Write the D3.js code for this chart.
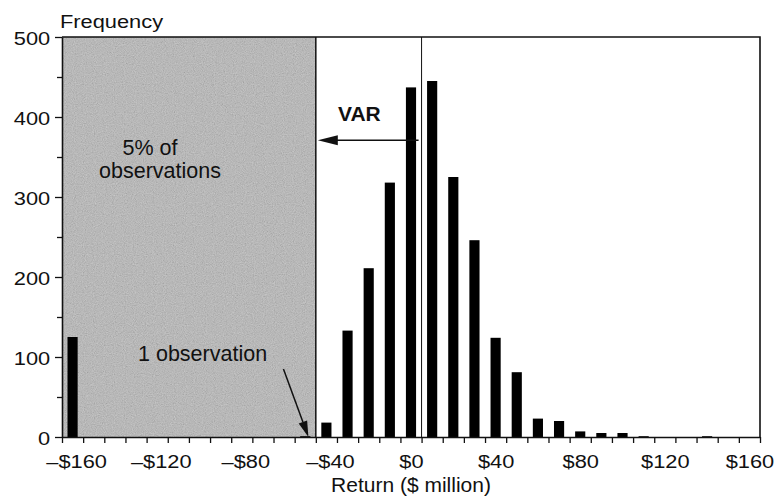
<!DOCTYPE html>
<html>
<head>
<meta charset="utf-8">
<script src="https://cdn.jsdelivr.net/npm/d3@7/dist/d3.min.js"></script>
<style>
  html, body { margin: 0; padding: 0; background: #fff; }
  svg { display: block; font-family: "Liberation Sans", Arial, Helvetica, sans-serif; }
</style>
</head>
<body>
<svg id="chart" width="775" height="500"></svg>
<script>
// Histogram bins: return in $ million (bin centres)
const bins = [-160, -150, -140, -130, -120, -110, -100, -90, -80, -70, -60, -50,
              -40, -30, -20, -10, 0, 10, 20, 30, 40, 50, 60, 70, 80, 90, 100,
              110, 120, 130, 140, 150, 160];
// Number of observations in each bin
const frequency = [125, 0, 0, 0, 0, 0, 0, 0, 0, 0, 0, 1,
                   18, 133, 211, 318, 437, 445, 325, 246, 124, 81, 23, 20, 7, 5, 5,
                   1, 0, 0, 1, 0, 0];
// Labelled x ticks and y ticks
const xLabelValues = [-160, -120, -80, -40, 0, 40, 80, 120, 160];
const yMajorTicks = [0, 100, 200, 300, 400, 500];
const yMinorTicks = [50, 150, 250, 350, 450];
// Value-at-risk cut-off and mean of the distribution (bin edges)
const varCutoff = -45;
const meanLine = 5;

const svg = d3.select("#chart");
const plotLeft = 62, plotRight = 760, plotTop = 37, plotBottom = 437;
const binWidth = 10;

const x = d3.scaleLinear()
  .domain([bins[0] - binWidth / 2, bins[bins.length - 1] + binWidth / 2])
  .range([plotLeft, plotRight]);
const y = d3.scaleLinear().domain([0, 500]).range([plotBottom, plotTop]);

const fmtMoney = v => (v < 0 ? "\u2013$" : "$") + Math.abs(v);
const stretch = 1.18;

// grain for the shaded tail
const defs = svg.append("defs");
const grain = defs.append("filter").attr("id", "grain")
  .attr("x", 0).attr("y", 0).attr("width", 1).attr("height", 1);
grain.append("feTurbulence").attr("type", "fractalNoise")
  .attr("baseFrequency", 0.9).attr("numOctaves", 2).attr("seed", 7);
grain.append("feColorMatrix").attr("type", "matrix")
  .attr("values", "0.33 0.33 0.33 0 0  0.33 0.33 0.33 0 0  0.33 0.33 0.33 0 0  0 0 0 0 1");

// shaded region: worst 5% of outcomes
const x0 = x(x.domain()[0]);
svg.append("rect")
  .attr("x", x0).attr("y", y(500))
  .attr("width", x(varCutoff) - x0).attr("height", y(0) - y(500))
  .attr("fill", "#b6b6b6");
svg.append("rect")
  .attr("x", x0).attr("y", y(500))
  .attr("width", x(varCutoff) - x0).attr("height", y(0) - y(500))
  .attr("filter", "url(#grain)").attr("opacity", 0.45);

// bars
const barW = (x(binWidth) - x(0)) * 0.48;
svg.append("g").selectAll("rect")
  .data(bins.map((b, i) => ({ b, f: frequency[i] })))
  .join("rect")
  .attr("x", d => x(d.b) - barW / 2)
  .attr("y", d => y(d.f))
  .attr("width", barW)
  .attr("height", d => y(0) - y(d.f))
  .attr("fill", "#000");

// frame: top and right edges
svg.append("path")
  .attr("d", `M${plotLeft},${y(500)}H${plotRight}V${y(0)}`)
  .attr("fill", "none").attr("stroke", "#111").attr("stroke-width", 1.6);

// VaR cut-off and mean lines
svg.append("line")
  .attr("x1", x(varCutoff)).attr("x2", x(varCutoff)).attr("y1", y(500)).attr("y2", y(0))
  .attr("stroke", "#111").attr("stroke-width", 1.5);
svg.append("line")
  .attr("x1", x(meanLine)).attr("x2", x(meanLine)).attr("y1", y(500)).attr("y2", y(0))
  .attr("stroke", "#111").attr("stroke-width", 1);

// x axis: ticks on bin edges, labels on bin centres
const edgeTicks = bins.map(b => b - binWidth / 2).concat([bins[bins.length - 1] + binWidth / 2]);
const xAxisTicks = svg.append("g").attr("transform", `translate(0,${y(0)})`)
  .call(d3.axisBottom(x).tickValues(edgeTicks).tickSize(6).tickFormat("").tickSizeOuter(0));
xAxisTicks.select(".domain").attr("stroke", "#111").attr("stroke-width", 1.6);
xAxisTicks.selectAll(".tick line").attr("stroke", "#111").attr("stroke-width", 1.3);

const xAxisLabels = svg.append("g").attr("transform", `translate(0,${y(0)})`)
  .call(d3.axisBottom(x).tickValues(xLabelValues).tickSize(0).tickPadding(18).tickFormat(fmtMoney));
xAxisLabels.select(".domain").remove();
xAxisLabels.selectAll(".tick text")
  .attr("font-size", 18.5).attr("fill", "#111").attr("font-family", null)
  .attr("dx", d => d < 0 ? 3 : 0)
  .attr("transform", `scale(${stretch},1)`);

// y axis
const yAxis = svg.append("g").attr("transform", `translate(${plotLeft},0)`)
  .call(d3.axisLeft(y).tickValues(yMajorTicks).tickSize(7).tickPadding(3).tickSizeOuter(0));
yAxis.select(".domain").attr("stroke", "#111").attr("stroke-width", 1.6);
yAxis.selectAll(".tick line").attr("stroke", "#111").attr("stroke-width", 1.3);
yAxis.selectAll(".tick text")
  .attr("font-size", 18.5).attr("fill", "#111").attr("font-family", null)
  .attr("x", -10).attr("dy", "0.42em")
  .attr("transform", `scale(${stretch},1)`);
const yMinor = svg.append("g").attr("transform", `translate(${plotLeft},0)`)
  .call(d3.axisLeft(y).tickValues(yMinorTicks).tickSize(5).tickFormat(""));
yMinor.select(".domain").remove();
yMinor.selectAll(".tick line").attr("stroke", "#111").attr("stroke-width", 1.3);

// axis titles
svg.append("text")
  .attr("transform", `translate(60,28) scale(${stretch},1)`)
  .attr("font-size", 18.5).attr("fill", "#111").text("Frequency");
svg.append("text")
  .attr("x", 411).attr("y", 492).attr("text-anchor", "middle")
  .attr("font-size", 21).attr("fill", "#111").text("Return ($ million)");

// annotations
svg.append("text").attr("x", 150).attr("y", 155).attr("text-anchor", "middle")
  .attr("font-size", 21.5).attr("fill", "#111").text("5% of");
svg.append("text").attr("x", 160).attr("y", 178).attr("text-anchor", "middle")
  .attr("font-size", 21.5).attr("fill", "#111").text("observations");
svg.append("text").attr("x", 138).attr("y", 361)
  .attr("font-size", 21.5).attr("fill", "#111").text("1 observation");
svg.append("text").attr("x", 338).attr("y", 121)
  .attr("font-size", 21).attr("font-weight", "bold").attr("fill", "#111").text("VAR");

// VAR arrow: from the mean back to the cut-off
const arrowY = y(371);
const varTip = x(varCutoff) + 2;
svg.append("line")
  .attr("x1", x(meanLine) - 3).attr("x2", varTip + 18).attr("y1", arrowY).attr("y2", arrowY)
  .attr("stroke", "#111").attr("stroke-width", 1.6);
svg.append("path")
  .attr("d", `M${varTip},${arrowY}L${varTip + 20},${arrowY - 5}L${varTip + 20},${arrowY + 5}Z`)
  .attr("fill", "#111");

// pointer to the single observation in the -50 bin
const p0 = [x(-60.3), y(85)], p1 = [x(-48.5), y(0)];
const ang = Math.atan2(p1[1] - p0[1], p1[0] - p0[0]);
const headLen = 16, headHalf = 4.5;
const base = [p1[0] - headLen * Math.cos(ang), p1[1] - headLen * Math.sin(ang)];
svg.append("line")
  .attr("x1", p0[0]).attr("y1", p0[1]).attr("x2", base[0]).attr("y2", base[1])
  .attr("stroke", "#111").attr("stroke-width", 1.5);
svg.append("path")
  .attr("d", `M${p1[0]},${p1[1]}` +
    `L${base[0] + headHalf * Math.sin(ang)},${base[1] - headHalf * Math.cos(ang)}` +
    `L${base[0] - headHalf * Math.sin(ang)},${base[1] + headHalf * Math.cos(ang)}Z`)
  .attr("fill", "#111");
</script>
</body>
</html>
